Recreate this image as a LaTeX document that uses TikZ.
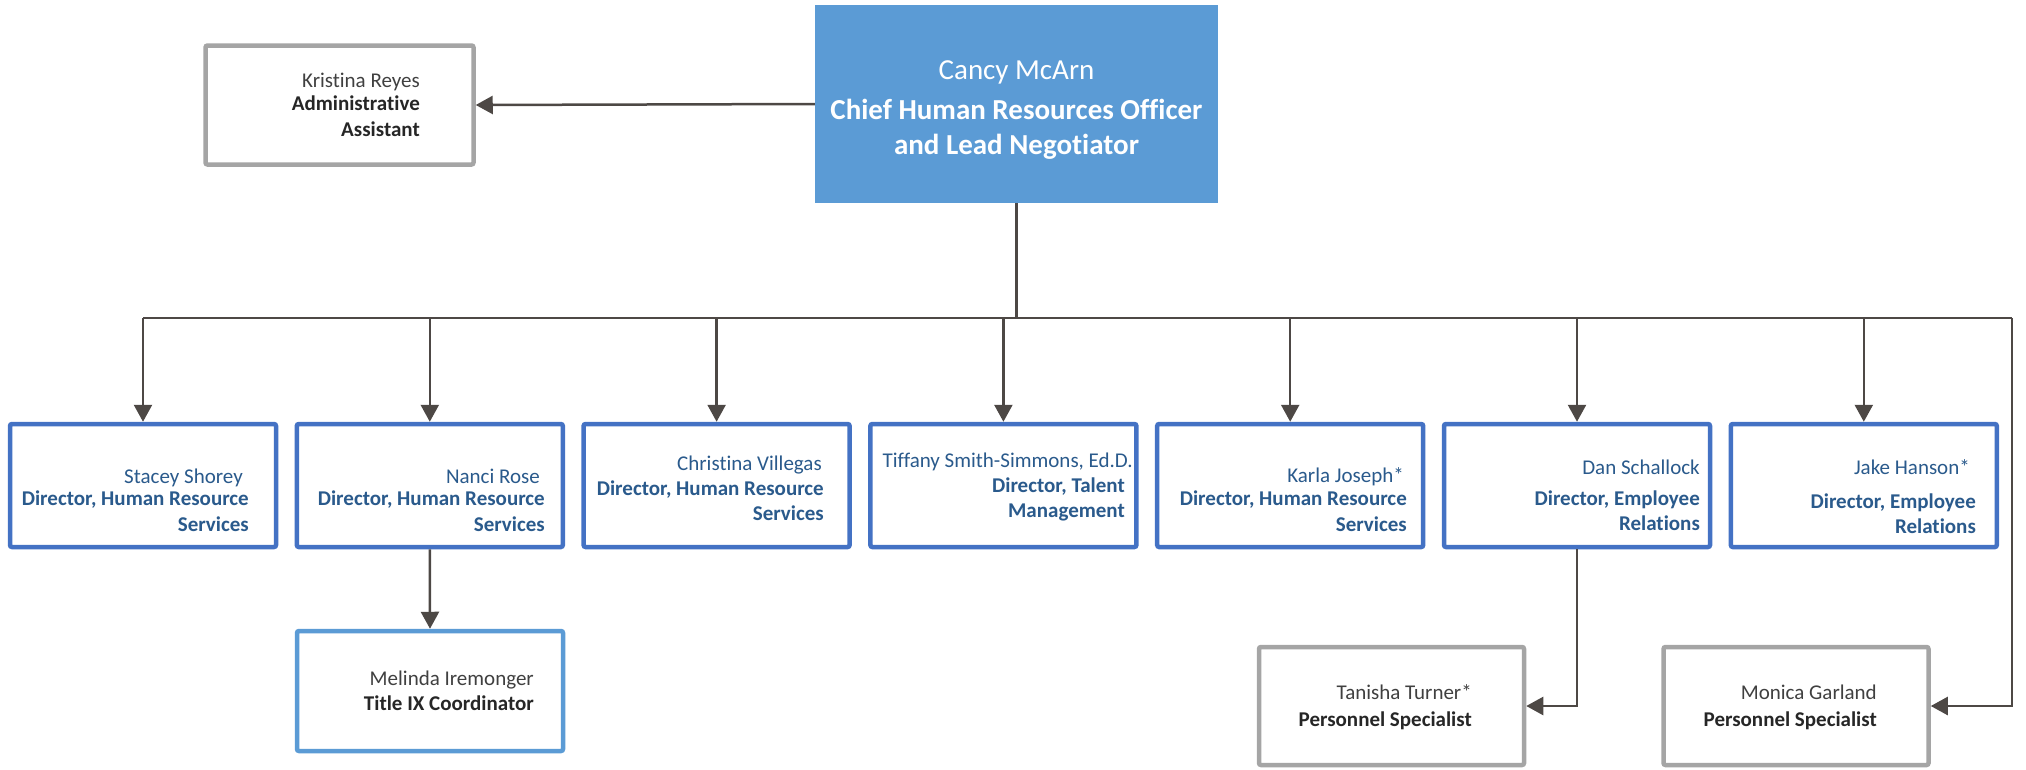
\documentclass[tikz,border=0pt]{standalone}
\usepackage{fontspec}
\setmainfont{Carlito}[Ligatures={NoCommon}]
\usetikzlibrary{arrows.meta}
\definecolor{ceofill}{HTML}{5B9BD5}
\definecolor{dirborder}{HTML}{4472C4}
\definecolor{dirtext}{HTML}{2A5A8C}
\definecolor{graybord}{HTML}{A5A5A5}
\definecolor{graytext}{HTML}{404040}
\definecolor{graybold}{HTML}{262626}
\definecolor{conncol}{HTML}{4D4845}
\definecolor{melborder}{HTML}{5B9BD5}
\tikzset{
  dbox/.style={draw=dirborder, line width=4.5pt, rounded corners=2pt, fill=white, minimum width=266pt, minimum height=123pt, inner sep=0pt},
  gbox/.style={draw=graybord, line width=4.5pt, rounded corners=2pt, fill=white, minimum width=265pt, minimum height=118pt, inner sep=0pt},
  mbox/.style={draw=melborder, line width=4.5pt, rounded corners=2pt, fill=white, minimum width=266pt, minimum height=120pt, inner sep=0pt},
  dname/.style={anchor=base east, inner sep=0pt, text=dirtext, font=\fontsize{21}{25}\selectfont},
  dtitle/.style={dname, font=\fontsize{21}{25}\selectfont\bfseries},
  gname/.style={anchor=base east, inner sep=0pt, text=graytext, font=\fontsize{21}{25}\selectfont},
  gtitle/.style={gname, text=graybold, font=\fontsize{21}{25}\selectfont\bfseries},
  ctext/.style={anchor=base, inner sep=0pt, text=white, font=\fontsize{29}{35}\selectfont},
  ctitle/.style={ctext, font=\fontsize{29}{35}\selectfont\bfseries},
  line/.style={draw=conncol, line width=2.5pt},
  conn/.style={line, -{Triangle[length=17pt,width=18pt]}}
}
\begin{document}
\begin{tikzpicture}[x=1pt,y=-1pt]
\useasboundingbox (0,0) rectangle (2026,769);
% CEO
\node[fill=ceofill, minimum width=403pt, minimum height=198pt, inner sep=0pt] (ceo) at (1016.5,104) {};
\node[ctext] (ceoname) at (1016.5,79) {Cancy McArn};
\node[ctitle] (ceot1) at (1016.5,119) {Chief Human Resources Officer};
\node[ctitle] (ceot2) at (1016.5,154) {and Lead Negotiator};
% Admin
\node[gbox, minimum width=268pt, minimum height=119pt] (admin) at (339.5,105) {};
\node[gname] (adminn) at (420,87) {Kristina Reyes};
\node[gtitle] (admint1) at (420,110) {Administrative};
\node[gtitle] (admint2) at (420,136) {Assistant};
% Directors
\node[dbox] (d1) at (143,485.5) {};
\node[dbox] (d2) at (429.8,485.5) {};
\node[dbox] (d3) at (716.6,485.5) {};
\node[dbox] (d4) at (1003.4,485.5) {};
\node[dbox] (d5) at (1290.2,485.5) {};
\node[dbox] (d6) at (1577,485.5) {};
\node[dbox] (d7) at (1863.8,485.5) {};
% texts
\node[dname] (d1n) at (243,483) {Stacey Shorey};
\node[dtitle] (d1a) at (249,505) {Director, Human Resource};
\node[dtitle] (d1b) at (249,531) {Services};
\node[dname] (d2n) at (540,483) {Nanci Rose};
\node[dtitle] (d2a) at (545,505) {Director, Human Resource};
\node[dtitle] (d2b) at (545,531) {Services};
\node[dname] (d3n) at (822,470) {Christina Villegas};
\node[dtitle] (d3a) at (824,495) {Director, Human Resource};
\node[dtitle] (d3b) at (824,520) {Services};
\node[dname] (d4n) at (1133,467) {Tiffany Smith-Simmons, Ed.D.};
\node[dtitle] (d4a) at (1125,492) {Director, Talent};
\node[dtitle] (d4b) at (1125,517) {Management};
\node[dname] (d5n) at (1404,482) {Karla Joseph*};
\node[dtitle] (d5a) at (1407,505) {Director, Human Resource};
\node[dtitle] (d5b) at (1407,531) {Services};
\node[dname] (d6n) at (1700,474) {Dan Schallock};
\node[dtitle] (d6a) at (1700,505) {Director, Employee};
\node[dtitle] (d6b) at (1700,530) {Relations};
\node[dname] (d7n) at (1970,474) {Jake Hanson*};
\node[dtitle] (d7a) at (1976,508) {Director, Employee};
\node[dtitle] (d7b) at (1976,533) {Relations};
% Melinda
\node[mbox] (mel) at (430,691) {};
\node[gname] (meln) at (534,685) {Melinda Iremonger};
\node[gtitle] (melt) at (534,710) {Title IX Coordinator};
% Tanisha
\node[gbox, minimum height=118pt] (tan) at (1391.5,706) {};
\node[gname] (tann) at (1472,699) {Tanisha Turner*};
\node[gtitle] (tant) at (1472,726) {Personnel Specialist};
% Monica
\node[gbox, minimum height=118pt] (mon) at (1796,706) {};
\node[gname] (monn) at (1877,699) {Monica Garland};
\node[gtitle] (mont) at (1877,726) {Personnel Specialist};
% connectors
\coordinate (bus) at (1016.5,318);
\coordinate (busl) at (143,318);
\coordinate (busr) at (2012,318);
\draw[conn] (ceo.west) -- (admin.east);
\draw[line] (ceo.south) -- (bus);
\draw[line] (busl) -- (busr);
\foreach \d in {d1,d2,d3,d4,d5,d6,d7}{
  \draw[conn] (\d.north |- bus) -- (\d.north);
}
\draw[conn] (busr) |- (mon.east);
\draw[conn] (d2.south) -- (mel.north);
\draw[conn] (d6.south) |- (tan.east);
\end{tikzpicture}
\end{document}
